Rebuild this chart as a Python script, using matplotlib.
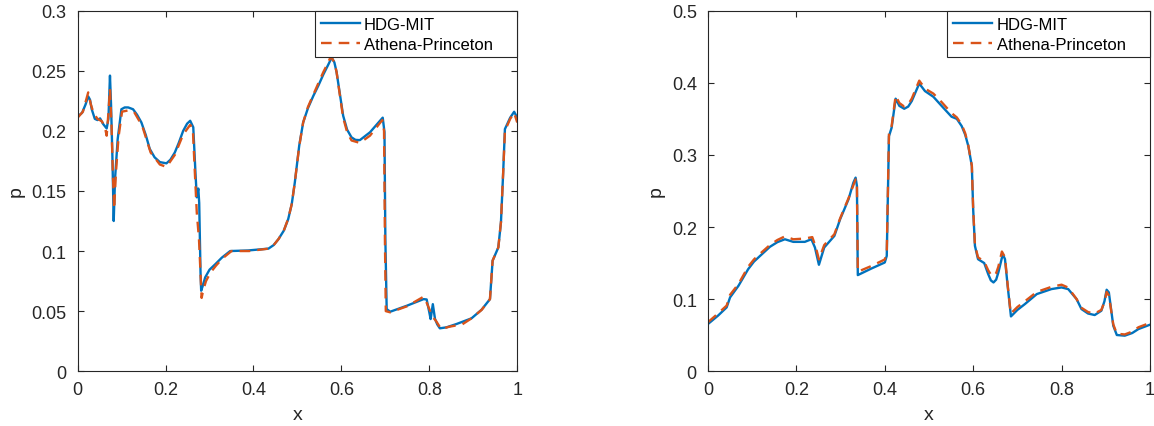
import matplotlib
matplotlib.use("Agg")
from matplotlib import pyplot as plt
from matplotlib.ticker import FuncFormatter

plt.rcParams['font.family'] = ['Liberation Sans', 'DejaVu Sans']

# left panel, HDG-MIT
left_hdg_x = [0.0, 0.01, 0.018, 0.024, 0.028, 0.032, 0.039, 0.045, 0.051, 0.058, 0.066, 0.070,
              0.0735, 0.076, 0.079, 0.082, 0.085, 0.091, 0.0995, 0.107, 0.115, 0.126, 0.135, 0.145,
              0.155, 0.164, 0.175, 0.187, 0.202, 0.211, 0.221, 0.230, 0.240, 0.249, 0.256, 0.263,
              0.268, 0.271, 0.2745, 0.2765, 0.2795, 0.281, 0.285, 0.290, 0.300, 0.313, 0.328, 0.347,
              0.388, 0.434, 0.446, 0.457, 0.469, 0.479, 0.487, 0.494, 0.504, 0.513, 0.524, 0.536,
              0.548, 0.559, 0.570, 0.578, 0.584, 0.589, 0.596, 0.604, 0.613, 0.623, 0.632, 0.642,
              0.665, 0.694, 0.698, 0.700, 0.703, 0.711, 0.749, 0.787, 0.794, 0.800, 0.803, 0.808,
              0.813, 0.818, 0.824, 0.839, 0.862, 0.896, 0.919, 0.938, 0.944, 0.957, 0.963, 0.968,
              0.972, 0.984, 0.993, 1.0]
left_hdg_p = [0.212, 0.215, 0.222, 0.2287, 0.226, 0.218, 0.210, 0.209, 0.2104, 0.2057, 0.202, 0.210,
              0.246, 0.221, 0.179, 0.125, 0.160, 0.193, 0.218, 0.2195, 0.2195, 0.218, 0.2135, 0.207,
              0.1965, 0.185, 0.178, 0.174, 0.173, 0.176, 0.182, 0.190, 0.200, 0.206, 0.2084, 0.203,
              0.165, 0.1447, 0.152, 0.140, 0.0823, 0.067, 0.0715, 0.078, 0.0845, 0.089, 0.0945, 0.100,
              0.1005, 0.102, 0.105, 0.110, 0.117, 0.1266, 0.139, 0.157, 0.1876, 0.207, 0.219, 0.229,
              0.238, 0.247, 0.255, 0.261, 0.257, 0.249, 0.232, 0.2126, 0.201, 0.1946, 0.1925, 0.1923,
              0.1988, 0.211, 0.199, 0.110, 0.0517, 0.0495, 0.0545, 0.060, 0.0597, 0.049, 0.0434, 0.0558,
              0.0434, 0.039, 0.0357, 0.0365, 0.0393, 0.044, 0.0512, 0.060, 0.092, 0.103, 0.124, 0.165,
              0.2015, 0.211, 0.2159, 0.211]

# left panel, Athena-Princeton
left_ath_x = [0.0, 0.012, 0.024, 0.030, 0.036, 0.045, 0.055, 0.062, 0.066, 0.070, 0.0735, 0.077,
              0.080, 0.083, 0.087, 0.093, 0.101, 0.115, 0.128, 0.147, 0.166, 0.187, 0.202, 0.221,
              0.240, 0.256, 0.262, 0.266, 0.271, 0.276, 0.282, 0.286, 0.292, 0.302, 0.315, 0.330,
              0.350, 0.390, 0.434, 0.446, 0.457, 0.469, 0.479, 0.487, 0.494, 0.504, 0.513, 0.524,
              0.536, 0.548, 0.559, 0.570, 0.576, 0.584, 0.589, 0.596, 0.604, 0.613, 0.623, 0.642,
              0.665, 0.693, 0.697, 0.699, 0.701, 0.711, 0.749, 0.787, 0.794, 0.802, 0.808, 0.815,
              0.827, 0.845, 0.875, 0.896, 0.919, 0.938, 0.944, 0.957, 0.963, 0.968, 0.972, 0.984,
              0.993, 1.0]
left_ath_p = [0.211, 0.216, 0.232, 0.222, 0.215, 0.210, 0.208, 0.203, 0.196, 0.215, 0.235, 0.205,
              0.165, 0.135, 0.165, 0.195, 0.216, 0.217, 0.216, 0.204, 0.182, 0.172, 0.170, 0.180,
              0.197, 0.205, 0.202, 0.170, 0.132, 0.110, 0.061, 0.068, 0.075, 0.082, 0.088, 0.094,
              0.100, 0.100, 0.102, 0.105, 0.110, 0.117, 0.127, 0.139, 0.157, 0.187, 0.207, 0.220,
              0.230, 0.240, 0.249, 0.257, 0.262, 0.257, 0.249, 0.231, 0.211, 0.199, 0.192, 0.190,
              0.196, 0.209, 0.200, 0.110, 0.050, 0.049, 0.054, 0.062, 0.057, 0.050, 0.045, 0.042,
              0.035, 0.037, 0.039, 0.044, 0.051, 0.060, 0.092, 0.103, 0.124, 0.165, 0.200, 0.210,
              0.215, 0.207]

# right panel, HDG-MIT
right_hdg_x = [0.0, 0.0226, 0.0422, 0.050, 0.069, 0.091, 0.104, 0.118, 0.140, 0.157, 0.174, 0.193,
               0.219, 0.234, 0.242, 0.251, 0.263, 0.286, 0.299, 0.318, 0.329, 0.334, 0.337, 0.339,
               0.370, 0.400, 0.4045, 0.4095, 0.4155, 0.4246, 0.433, 0.444, 0.453, 0.461, 0.478,
               0.491, 0.510, 0.529, 0.551, 0.563, 0.574, 0.582, 0.589, 0.597, 0.600, 0.604, 0.611,
               0.625, 0.634, 0.640, 0.646, 0.652, 0.657, 0.667, 0.672, 0.678, 0.6855, 0.700, 0.717,
               0.744, 0.777, 0.800, 0.815, 0.834, 0.845, 0.860, 0.875, 0.890, 0.897, 0.902, 0.907,
               0.917, 0.925, 0.943, 0.960, 0.974, 1.0]
right_hdg_p = [0.0655, 0.077, 0.0885, 0.1024, 0.1185, 0.1416, 0.152, 0.160, 0.1725, 0.179, 0.183, 0.1794,
               0.1794, 0.183, 0.1716, 0.1476, 0.1716, 0.1877, 0.2108, 0.2385, 0.2616, 0.2685, 0.257, 0.1333,
               0.1425, 0.1508, 0.160, 0.326, 0.3377, 0.378, 0.368, 0.364, 0.367, 0.3746, 0.399,
               0.3885, 0.3806, 0.3677, 0.353, 0.350, 0.340, 0.328, 0.3123, 0.2846, 0.2246, 0.1739, 0.1554,
               0.150, 0.1347, 0.126, 0.1231, 0.127, 0.137, 0.1623, 0.1554, 0.1185, 0.076, 0.085, 0.0931,
               0.107, 0.1139, 0.1162, 0.1139, 0.100, 0.0862, 0.080, 0.0779, 0.0839, 0.097, 0.113, 0.1093,
               0.0631, 0.0502, 0.0493, 0.053, 0.0585, 0.0645]

# right panel, Athena-Princeton
right_ath_x = [0.0, 0.0226, 0.0422, 0.050, 0.069, 0.091, 0.104, 0.118, 0.140, 0.157, 0.174, 0.193,
               0.219, 0.236, 0.244, 0.251, 0.263, 0.286, 0.299, 0.318, 0.329, 0.334, 0.337, 0.339,
               0.370, 0.400, 0.4045, 0.4095, 0.4155, 0.4246, 0.433, 0.444, 0.453, 0.461, 0.478,
               0.491, 0.510, 0.529, 0.551, 0.563, 0.574, 0.582, 0.589, 0.597, 0.600, 0.604, 0.611,
               0.625, 0.634, 0.640, 0.646, 0.652, 0.657, 0.665, 0.672, 0.678, 0.685, 0.700, 0.717,
               0.744, 0.777, 0.800, 0.815, 0.834, 0.845, 0.860, 0.875, 0.890, 0.897, 0.902, 0.907,
               0.917, 0.925, 0.943, 0.960, 0.974, 1.0]
right_ath_p = [0.068, 0.080, 0.091, 0.106, 0.121, 0.145, 0.155, 0.163, 0.175, 0.182, 0.187, 0.183,
               0.184, 0.186, 0.172, 0.155, 0.175, 0.190, 0.212, 0.240, 0.258, 0.266, 0.258, 0.138,
               0.146, 0.155, 0.165, 0.330, 0.340, 0.382, 0.372, 0.367, 0.370, 0.378, 0.403,
               0.392, 0.385, 0.373, 0.358, 0.352, 0.342, 0.330, 0.313, 0.285, 0.225, 0.175, 0.158,
               0.152, 0.140, 0.134, 0.132, 0.136, 0.145, 0.166, 0.158, 0.120, 0.080, 0.089, 0.097,
               0.110, 0.117, 0.120, 0.116, 0.100, 0.088, 0.082, 0.080, 0.085, 0.096, 0.110, 0.105,
               0.065, 0.052, 0.051, 0.055, 0.061, 0.067]

panels = [
    (left_hdg_x, left_hdg_p, left_ath_x, left_ath_p, 0.3, 0.05),
    (right_hdg_x, right_hdg_p, right_ath_x, right_ath_p, 0.5, 0.1),
]
positions = [[0.0673, 0.1283, 0.3809, 0.8443], [0.6135, 0.1283, 0.3830, 0.8443]]

BLUE = '#0072BD'
ORANGE = '#D95319'
DARK = '#262626'


def short_num(v, _):
    if v == 0:
        return '0'
    return ('%.2f' % v).rstrip('0').rstrip('.')


fig = plt.figure(figsize=(11.54, 4.27), dpi=100)
for (hx, hp, ax_, ap, ymax, ystep), pos in zip(panels, positions):
    ax = fig.add_axes(pos)
    ax.plot(hx, hp, color=BLUE, linewidth=1.7, label='HDG-MIT')
    # trailing spaces give the wide right margin of the original legend box
    ax.plot(ax_, ap, color=ORANGE, linewidth=1.7, linestyle=(0, (4.5, 3)),
            label='Athena-Princeton    ')
    ax.set_xlim(0, 1)
    ax.set_ylim(0, ymax)
    nticks = int(round(ymax / ystep)) + 1
    ax.set_yticks([i * ystep for i in range(nticks)])
    ax.set_xticks([0, 0.2, 0.4, 0.6, 0.8, 1.0])
    ax.xaxis.set_major_formatter(FuncFormatter(short_num))
    ax.yaxis.set_major_formatter(FuncFormatter(short_num))
    ax.tick_params(direction='in', top=True, right=True, length=4, width=0.8,
                   labelsize=13, colors=DARK, pad=7)
    ax.tick_params(axis='y', pad=8)
    for s in ax.spines.values():
        s.set_color(DARK)
        s.set_linewidth(0.8)
    ax.set_xlabel('x', fontsize=14, color=DARK, labelpad=6)
    ax.set_ylabel('p', fontsize=14, color=DARK, labelpad=5)
    leg = ax.legend(loc='upper right', fontsize=12, frameon=True, fancybox=False,
                    borderaxespad=0, handlelength=2.35, handletextpad=0.25,
                    borderpad=0.35, labelspacing=0.3)
    leg.get_frame().set_edgecolor(DARK)
    leg.get_frame().set_linewidth(0.8)
    leg.get_frame().set_alpha(1)

fig.savefig('out.png', dpi=100)
